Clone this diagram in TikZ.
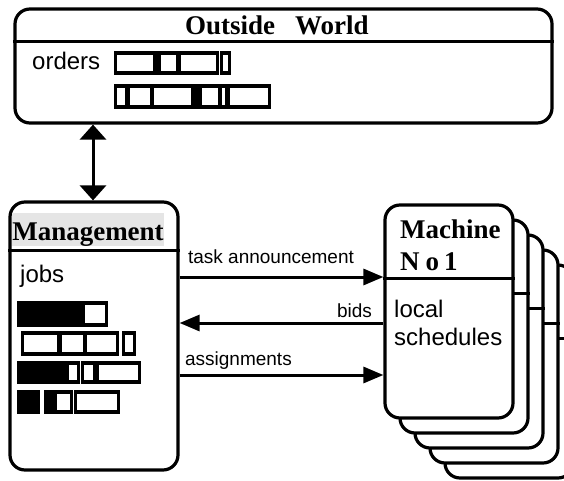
\documentclass[tikz,border=0pt]{standalone}
\usepackage{fontspec}
\setmainfont{Liberation Serif}
\setsansfont{Liberation Sans}
\usetikzlibrary{arrows.meta, positioning}

\tikzset{
  box/.style={draw, line width=3.2pt, rounded corners=15pt, fill=white, inner sep=0pt},
  sep/.style={line width=3pt},
  title/.style={font=\fontsize{27}{30}\selectfont\bfseries, inner sep=0pt},
  lbl/.style={font=\sffamily\fontsize{24}{28}\selectfont, inner sep=0pt},
  msg/.style={font=\sffamily\fontsize{19}{22}\selectfont, inner sep=0pt},
  link/.style={line width=3pt, -{Triangle[length=20pt,width=16pt]}},
  blk/.style={line width=3.3pt},
}

\begin{document}
\begin{tikzpicture}[x=1pt,y=-1pt]
\useasboundingbox (0,0) rectangle (564,481);
\clip (0,0) rectangle (564,481);

% outside world
\node[box, minimum width=537pt, minimum height=114pt] (world) at (283.5,66) {};
\coordinate (wsep) at (0,42);
\draw[sep] (world.west |- wsep) -- (world.east |- wsep);
\node[title, anchor=base west] (worldname) at (185,35) {Outside\hspace{20pt}World};
\node[lbl, anchor=base west] (orders) at (32,70) {orders};
\foreach \a/\b/\c in {115/155/white,155/158/black,159/178/white,179/218/white,221/230/white}
  \draw[blk, fill=\c] ({\a+0.8},53) rectangle ({\b-0.8},73);
\foreach \a/\b/\c in {115/127/white,128/152/white,152/193/white,193/200/black,200/220/white,220/227/white,228/270/white}
  \draw[blk, fill=\c] ({\a+0.8},86) rectangle ({\b-0.8},107);

% management
\node[box, minimum width=168pt, minimum height=268pt] (mgmt) at (94,336) {};
\coordinate (msep) at (0,250);
\draw[sep] (mgmt.west |- msep) -- (mgmt.east |- msep);
\node[title, fill=black!10, minimum width=151pt, text height=25pt, text depth=3pt, inner ysep=2.5pt, anchor=base] (mgmtname) at (88,240) {Management};
\node[lbl, anchor=base west] (jobs) at (20,282) {jobs};
\foreach \a/\b/\c in {18/42/black,43/82/black,83/107/white}
  \draw[blk, fill=\c] ({\a+0.8},303) rectangle ({\b-0.8},325);
\foreach \a/\b/\c in {22/59/white,60/85/white,85/118/white,123/135/white}
  \draw[blk, fill=\c] ({\a+0.8},333) rectangle ({\b-0.8},354);
\foreach \a/\b/\c in {18/66/black,67/79/white,82/95/white,97/140/white}
  \draw[blk, fill=\c] ({\a+0.8},363) rectangle ({\b-0.8},382);
\foreach \a/\b/\c in {18/39/black,45/55/black,55/72/white,75/119/white}
  \draw[blk, fill=\c] ({\a+0.8},392) rectangle ({\b-0.8},412);

% machines, back to front
\foreach \i in {4,3,2,1,0}{
  \node[box, minimum width=128pt, minimum height=213pt] (mach\i) at ({449+15*\i},{311.5+15*\i}) {};
  \coordinate (ksep\i) at (0,{278+15*\i});
  \draw[sep] (mach\i.west |- ksep\i) -- (mach\i.east |- ksep\i);
}
\node[title, anchor=base west] (machname) at (400,238) {Machine};
\node[title, anchor=base west] (machno) at (400,270) {N\hspace{6pt}o\hspace{5pt}1};
\node[lbl, anchor=base west] (local) at (394,317) {local};
\node[lbl, anchor=base west] (sched) at (394,345) {schedules};

% links
\coordinate (wm) at (93,0);
\draw[line width=3pt, {Triangle[length=15pt,width=26pt]}-{Triangle[length=15pt,width=26pt]}] (world.south -| wm) -- (mgmt.north -| wm);
\coordinate (ta) at (0,277);
\coordinate (bd) at (0,323);
\coordinate (as) at (0,375);
\draw[link] (mgmt.east |- ta) -- node[msg, pos=0, anchor=base west, xshift=7pt, yshift=14pt] {task announcement} (mach0.west |- ta);
\draw[link] (mach0.west |- bd) -- node[msg, pos=0, anchor=base east, xshift=-10pt, yshift=6pt] {bids} (mgmt.east |- bd);
\draw[link] (mgmt.east |- as) -- node[msg, pos=0, anchor=base west, xshift=4pt, yshift=10pt] {assignments} (mach0.west |- as);
\end{tikzpicture}
\end{document}
